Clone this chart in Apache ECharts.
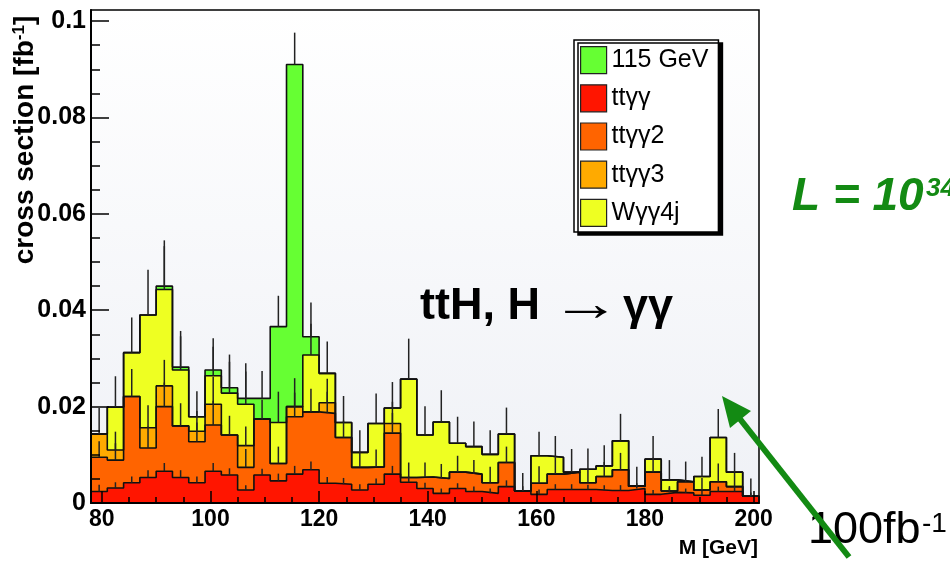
<!DOCTYPE html>
<html>
<head>
<meta charset="utf-8">
<script src="https://cdn.jsdelivr.net/npm/echarts@6/dist/echarts.min.js"></script>
<style>
html,body{margin:0;padding:0;background:#ffffff;}
#c{width:950px;height:563px;}
</style>
</head>
<body>
<div id="c"></div>
<script>
// ---------- data ----------
// lower edge of each 3 GeV mass bin
const massBinLow = [78,81,84,87,90,93,96,99,102,105,108,111,114,117,120,123,126,129,132,135,
  138,141,144,147,150,153,156,159,162,165,168,171,174,177,180,183,186,189,192,195,198];
const binWidth = 3;

// component cross sections [fb^-1] per bin (stack order bottom -> top)
const ttyy = [0.0024,0.0031,0.0042,0.0053,0.0066,0.0053,0.0042,0.0066,0.0058,0.0027,
  0.0058,0.0046,0.0060,0.0069,0.0041,0.0039,0.0027,0.0039,0.0060,0.0043,
  0.0030,0.0020,0.0030,0.0024,0.0020,0.0034,0.0025,0.0018,0.0028,0.0028,
  0.0028,0.0026,0.0026,0.0030,0.0018,0.0022,0.0021,0.0016,0.0024,0.0024,0.0014];
const ttyy2 = [0.0071,0.0058,0.0179,0.0061,0.0134,0.0107,0.0085,0.0096,0.0083,0.0047,
  0.0116,0.0036,0.0119,0.0120,0.0145,0.0097,0.0047,0.0036,0.0085,0.0010,
  0.0024,0.0031,0.0034,0.0036,0.0022,0.0050,0,0.0023,0.0032,0.0036,
  0.0014,0.0029,0.0043,0.0005,0.0046,0.0003,0.0023,0.0011,0.0020,0.0010,0];
const ttyy3 = [0.0048,0.0021,0,0.0042,0.0043,0,0.0022,0.0043,0,0.0045,
  0,0,0.0021,0,0.0022,0,0,0,0.0020,0,
  0,0,0,0,0,0,0,0,0,0,
  0,0,0,0,0,0,0,0,0,0,0];
const wyy4j = [0,0.0089,0.0091,0.0234,0.0200,0.0116,0.0030,0.0059,0.0087,0.0086,
  0,0.0085,0,0.0118,0.0061,0.0031,0.0031,0.0090,0.0032,0.0204,
  0.0087,0.0117,0.0060,0.0057,0.0059,0.0059,0,0.0057,0.0035,0,
  0.0028,0.0022,0.0060,0,0.0027,0.0023,0,0.0028,0.0092,0.0030,0];
const h115 = [0,0,0,0,0.0007,0.0006,0,0.0012,0.0011,0.0012,
  0.0043,0.0199,0.0710,0.0038,0,0,0,0,0,0,
  0,0,0,0,0,0,0,0,0,0,
  0,0,0,0,0,0,0,0,0,0,0];

// upward error bars drawn from the top of each stacked layer
const errTtyy = [0.0014,0.0012,0.0013,0.0015,0.0017,0.0015,0.0013,0.0017,0.0014,0.0010,
  0.0013,0.0015,0.0017,0.0017,0.0013,0.0013,0.0012,0.0012,0.0017,0.0012,
  0.0012,0.0010,0.0011,0.0010,0.0010,0.0013,0.0010,0.0010,0.0011,0.0011,
  0.0010,0.0011,0.0011,0.0011,0.0009,0.0010,0.0009,0.0009,0.0010,0.0010,0.0008];
const errTtyy2 = [0.0033,0.0035,0.0057,0.0045,0.0050,0.0047,0.0040,0.0050,0.0040,0.0038,
  0.0040,0.0035,0.0050,0.0048,0.0045,0.0035,0.0033,0.0036,0.0042,0.0031,
  0.0030,0.0030,0.0034,0.0029,0.0033,0.0033,0,0.0035,0.0035,0.0048,
  0.0030,0.0030,0.0035,0.0040,0.0030,0.0010,0.0042,0.0025,0.0038,0.0030,0];
const errTtyy3 = [0.0054,0.0038,0,0.0047,0.0054,0,0.0042,0.0057,0,0.0040,
  0,0,0.0059,0,0.0050,0,0,0,0.0045,0,
  0,0,0,0,0,0,0,0,0,0,
  0,0,0,0,0,0,0,0,0,0,0];
const errWyy4j = [0,0.0064,0.0073,0.0094,0.0090,0.0070,0.0053,0.0060,0.0065,0.0068,
  0,0.0064,0,0.0065,0.0066,0.0055,0.0046,0.0062,0.0054,0.0084,
  0.0060,0.0066,0.0055,0.0052,0.0050,0.0055,0.0037,0.0050,0.0044,0,
  0.0043,0.0043,0.0056,0,0.0048,0.0041,0,0.0041,0.0059,0.0040,0.0037];
const errH115 = [0,0,0,0,0.0095,0.0075,0,0.0066,0.0069,0.0073,
  0.0057,0.0064,0.0066,0.0071,0,0,0,0,0,0,
  0,0,0,0,0,0,0,0,0,0,
  0,0,0,0,0,0,0,0,0,0,0];

// axis ticks / labels
const xTickLabels = [80,100,120,140,160,180,200];
const yTickLabels = ['0','0.02','0.04','0.06','0.08','0.1'];

const seriesNames = ['ttγγ','ttγγ2','ttγγ3','Wγγ4j','115 GeV'];
const seriesColors = ['#ff1500','#ff6400','#ffaa00','#eeff22','#66ff33'];
const legendOrder = ['115 GeV','ttγγ','ttγγ2','ttγγ3','Wγγ4j'];

// ---------- build ----------
const FONT = '"Liberation Sans", Arial, Helvetica, sans-serif';
const xMin = massBinLow[0];
const xMax = massBinLow[massBinLow.length-1] + binWidth;
const yMax = 0.1023;

const comps = [ttyy, ttyy2, ttyy3, wyy4j, h115];
const errs = [errTtyy, errTtyy2, errTtyy3, errWyy4j, errH115];
const cum = [];
let run = massBinLow.map(() => 0);
comps.forEach(arr => { run = run.map((v, i) => v + arr[i]); cum.push(run.slice()); });

function stepData(tops) {
  const d = [[xMin, 0]];
  massBinLow.forEach((x, i) => d.push([x, tops[i]]));
  d.push([xMax, tops[tops.length-1]]);
  d.push([xMax, 0]);
  return d;
}

const series = [];
for (let k = comps.length - 1; k >= 0; k--) {
  series.push({
    name: seriesNames[k],
    type: 'line',
    step: 'end',
    data: stepData(cum[k]),
    symbol: 'none',
    color: seriesColors[k],
    lineStyle: {color: '#111', width: 1.6},
    areaStyle: {color: seriesColors[k], opacity: 1},
    silent: true,
    animation: false,
    z: 2
  });
}
const errData = [];
errs.forEach((e, k) => e.forEach((v, i) => {
  if (v > 0) errData.push([massBinLow[i] + binWidth/2, cum[k][i], cum[k][i] + v]);
}));
series.push({
  type: 'custom',
  silent: true,
  animation: false,
  z: 3,
  data: errData,
  encode: {x: 0, y: [1, 2]},
  renderItem: (params, api) => {
    const a = api.coord([api.value(0), api.value(1)]);
    const b = api.coord([api.value(0), api.value(2)]);
    return {type: 'line', shape: {x1: a[0], y1: a[1], x2: b[0], y2: b[1]},
            style: {stroke: '#222', lineWidth: 1.5}};
  }
});

const xMinor = []; for (let v = 80; v <= 200; v += 5) xMinor.push(v);
const yMinor = []; for (let j = 1; j <= 20; j++) yMinor.push(+(j*0.005).toFixed(3));

const GREEN = '#138a13';
const option = {
  animation: false,
  backgroundColor: 'transparent',
  grid: {left: 91, right: 191, top: 10, bottom: 60, show: true,
    borderColor: '#000', borderWidth: 1.5,
    backgroundColor: {type: 'linear', x: 0, y: 0, x2: 0, y2: 1,
      colorStops: [{offset: 0, color: '#ffffff'}, {offset: 1, color: '#eff1f6'}]}},
  xAxis: [
    {type: 'value', min: xMin, max: xMax, position: 'bottom', z: 5,
     axisLine: {show: true, onZero: false, lineStyle: {color: '#000', width: 2}},
     axisTick: {show: true, inside: true, length: 12, customValues: xTickLabels, lineStyle: {color: '#000', width: 1.5}},
     axisLabel: {show: true, customValues: xTickLabels, margin: 5, color: '#000', fontSize: 23, fontWeight: 'bold', fontFamily: FONT},
     splitLine: {show: false}},
    {type: 'value', min: xMin, max: xMax, position: 'bottom', z: 5,
     axisLine: {show: false},
     axisTick: {show: true, inside: true, length: 6, customValues: xMinor, lineStyle: {color: '#000', width: 1.5}},
     axisLabel: {show: false}, splitLine: {show: false}}
  ],
  yAxis: [
    {type: 'value', min: 0, max: yMax, position: 'left', z: 5,
     axisLine: {show: true, onZero: false, lineStyle: {color: '#000', width: 2}},
     axisTick: {show: true, inside: true, length: 18, customValues: [0,0.02,0.04,0.06,0.08,0.1], lineStyle: {color: '#000', width: 1.5}},
     axisLabel: {show: true, customValues: [0,0.02,0.04,0.06,0.08,0.1], margin: 5, color: '#000',
       fontSize: 25, fontWeight: 'bold', fontFamily: FONT,
       formatter: v => yTickLabels[Math.round(v/0.02)]},
     splitLine: {show: false}},
    {type: 'value', min: 0, max: yMax, position: 'left', z: 5,
     axisLine: {show: false},
     axisTick: {show: true, inside: true, length: 9, customValues: yMinor, lineStyle: {color: '#000', width: 1.5}},
     axisLabel: {show: false}, splitLine: {show: false}}
  ],
  legend: {
    show: true, orient: 'vertical', left: 574, top: 40,
    padding: [6, 10, 5, 6], itemGap: 10, itemWidth: 26, itemHeight: 27,
    icon: 'rect', selectedMode: false,
    backgroundColor: '#ffffff', borderColor: '#000', borderWidth: 1.5,
    shadowColor: '#000', shadowOffsetX: 4, shadowOffsetY: 3, shadowBlur: 0,
    textStyle: {fontSize: 25, fontFamily: FONT, color: '#000'},
    itemStyle: {borderColor: '#222', borderWidth: 1.2},
    data: legendOrder.map(n => ({name: n, itemStyle: {color: seriesColors[seriesNames.indexOf(n)], borderColor: '#222', borderWidth: 1.2}}))
  },
  graphic: [
    {type: 'text', x: 25, y: 140, rotation: Math.PI/2, z: 10,
     style: {text: '{a|cross section [fb}{s|-1}{a|]}', align: 'center', verticalAlign: 'middle', fill: '#000',
       rich: {a: {fontSize: 28, fontWeight: 'bold', fontFamily: FONT, fill: '#000'},
              s: {fontSize: 17, fontWeight: 'bold', fontFamily: FONT, fill: '#000', verticalAlign: 'top'}}}},
    {type: 'text', x: 758, y: 548, z: 10,
     style: {text: 'M [GeV]', font: 'bold 21px ' + FONT, fill: '#000', align: 'right', verticalAlign: 'middle'}},
    {type: 'text', x: 420, y: 307, z: 10,
     style: {text: 'ttH, H', font: 'bold 45px ' + FONT, fill: '#000', align: 'left', verticalAlign: 'middle'}},
    {type: 'text', x: 586, y: 306, z: 10, scaleX: 1.4,
     style: {text: '→', font: 'normal 50px ' + FONT, fill: '#000', align: 'center', verticalAlign: 'middle'}},
    {type: 'text', x: 623, y: 308, z: 10,
     style: {text: 'γγ', font: 'bold 45px ' + FONT, fill: '#000', align: 'left', verticalAlign: 'middle'}},
    {type: 'text', x: 792, y: 197, z: 10,
     style: {text: 'L = 10', font: 'italic bold 46px ' + FONT, fill: GREEN, align: 'left', verticalAlign: 'middle'}},
    {type: 'text', x: 926, y: 176, z: 10,
     style: {text: '34', font: 'italic bold 26px ' + FONT, fill: GREEN, align: 'left', verticalAlign: 'top'}},
    {type: 'text', x: 808, y: 531, z: 10,
     style: {text: '100fb', font: 'normal 45px ' + FONT, fill: '#000', align: 'left', verticalAlign: 'middle'}},
    {type: 'text', x: 922, y: 510, z: 10,
     style: {text: '-1', font: 'normal 28px ' + FONT, fill: '#000', align: 'left', verticalAlign: 'top'}},
    {type: 'line', z: 11, shape: {x1: 849, y1: 557, x2: 740, y2: 419},
     style: {stroke: GREEN, lineWidth: 6}},
    {type: 'polygon', z: 11, shape: {points: [[722, 396], [751, 411], [730, 428]]},
     style: {fill: GREEN}}
  ],
  series: series
};

const chart = echarts.init(document.getElementById('c'), null, {renderer: 'canvas'});
chart.setOption(option);
</script>
</body>
</html>
